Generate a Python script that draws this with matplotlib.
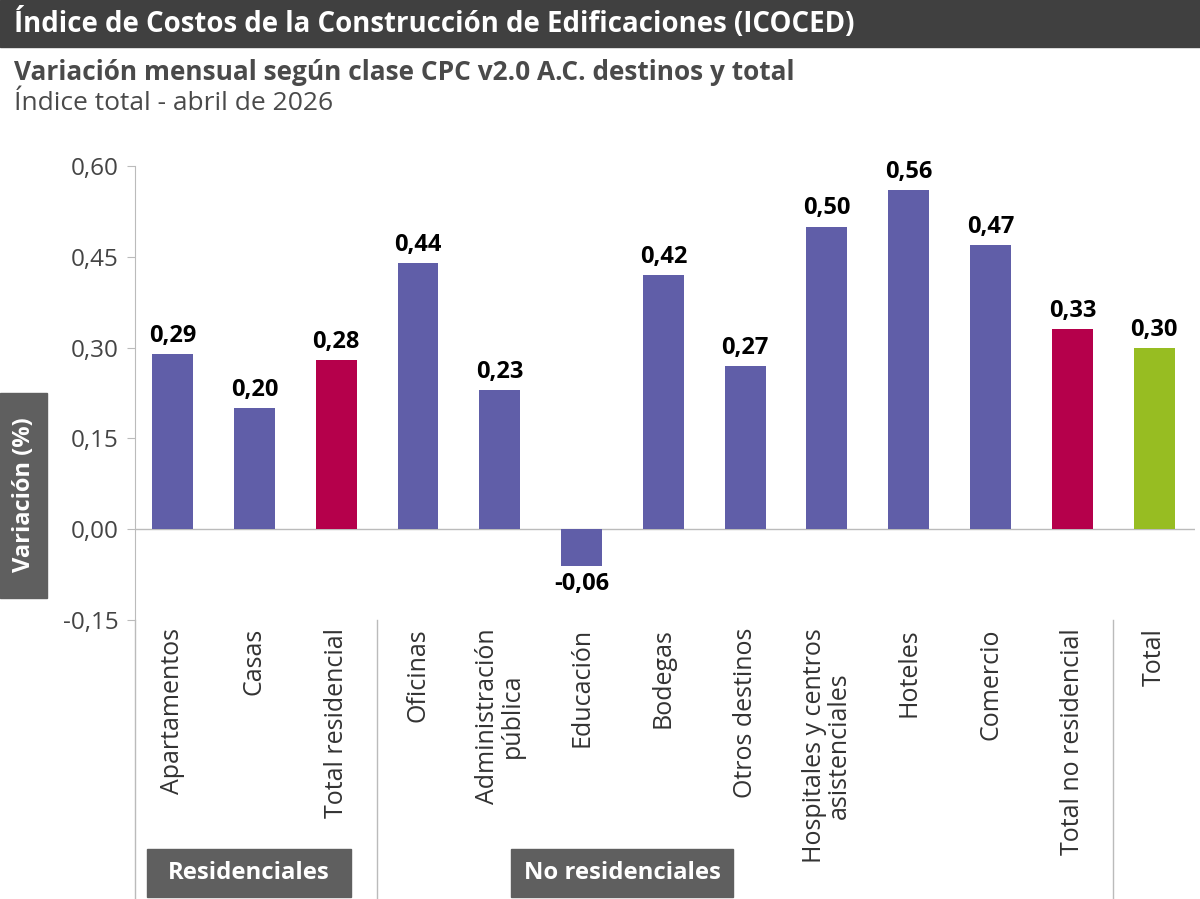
import matplotlib
matplotlib.use("Agg")
import matplotlib.pyplot as plt
from matplotlib.patches import Rectangle
from matplotlib.lines import Line2D

plt.rcParams['font.family'] = ['Open Sans', 'DejaVu Sans']

categories = ["Apartamentos", "Casas", "Total residencial", "Oficinas", "Administración\npública",
              "Educación", "Bodegas", "Otros destinos", "Hospitales y centros\nasistenciales",
              "Hoteles", "Comercio", "Total no residencial", "Total"]
values = [0.29, 0.20, 0.28, 0.44, 0.23, -0.06, 0.42, 0.27, 0.50, 0.56, 0.47, 0.33, 0.30]
kinds = ["d", "d", "t", "d", "d", "d", "d", "d", "d", "d", "d", "t", "g"]
yticks = [-0.15, 0.00, 0.15, 0.30, 0.45, 0.60]
color_map = {"d": "#605ea8", "t": "#b5004b", "g": "#97bd22"}

W, H = 1200, 899
fig = plt.figure(figsize=(12, 8.99), dpi=100)

def fx(px): return px / W
def fy(py): return 1 - py / H

# title bar
fig.patches.append(Rectangle((0, fy(47)), 1, 47 / H, transform=fig.transFigure, color="#404040", zorder=0))
fig.text(fx(14), fy(24), "Índice de Costos de la Construcción de Edificaciones (ICOCED)", color="white",
         fontsize=19.9, fontweight="bold", va="center", ha="left")
fig.text(fx(14), fy(73), "Variación mensual según clase CPC v2.0 A.C. destinos y total", color="#4a4a4a",
         fontsize=18.9, fontweight="bold", va="center")
fig.text(fx(14), fy(104), "Índice total - abril de 2026", color="#4a4a4a", fontsize=19, va="center")

ax = fig.add_axes([fx(135), fy(620), fx(1195) - fx(135), fy(166) - fy(620)])
x = list(range(len(values)))
ax.bar(x, values, width=0.5, color=[color_map[k] for k in kinds], zorder=2)
for xi, v in zip(x, values):
    off = 0.01 if v >= 0 else -0.01
    ax.text(xi, v + off, f"{v:.2f}".replace(".", ","), ha="center", va="bottom" if v >= 0 else "top",
            fontsize=17, fontweight="bold", color="black")
ax.set_xlim(-0.46, 12.5)
ax.set_ylim(-0.15, 0.60)
ax.set_yticks(yticks)
ax.set_yticklabels([f"{t:.2f}".replace(".", ",") for t in yticks], fontsize=17.5, color="#444444")
ax.tick_params(axis="y", length=6, color="#bbbbbb", pad=6)
ax.set_xticks([])
for s in ["top", "right", "bottom"]:
    ax.spines[s].set_visible(False)
ax.spines["left"].set_color("#bbbbbb")
ax.axhline(0, color="#bbbbbb", lw=1, zorder=1)

# category labels
for xi, c in zip(x, categories):
    px = ax.transData.transform((xi, 0))[0]
    fig.text(px / fig.dpi / 12, fy(628), c, rotation=90, ha="center", va="top", fontsize=18,
             color="#333333", multialignment="center", linespacing=1.0)

# separators
for xs in [-0.46, 2.5, 11.5]:
    px = ax.transData.transform((xs, 0))[0] / (fig.dpi * 12)
    fig.lines.append(Line2D([px, px], [fy(620), 0], transform=fig.transFigure, color="#bbbbbb", lw=1))

# group boxes
for (x0, x1, lab) in [(147, 351, "Residenciales"), (511, 733, "No residenciales")]:
    fig.patches.append(Rectangle((fx(x0), fy(897)), fx(x1 - x0), 48 / H, transform=fig.transFigure,
                                 color="#5f5f5f"))
    fig.text(fx((x0 + x1) / 2), fy(873), lab, color="white", fontsize=17.2, fontweight="bold",
             ha="center", va="center")

# y label box
fig.patches.append(Rectangle((0, fy(598)), fx(47), 205 / H, transform=fig.transFigure, color="#5f5f5f"))
fig.text(fx(24), fy(495), "Variación (%)", color="white", fontsize=17, fontweight="bold",
         rotation=90, ha="center", va="center")

fig.savefig("out.png", dpi=100)
